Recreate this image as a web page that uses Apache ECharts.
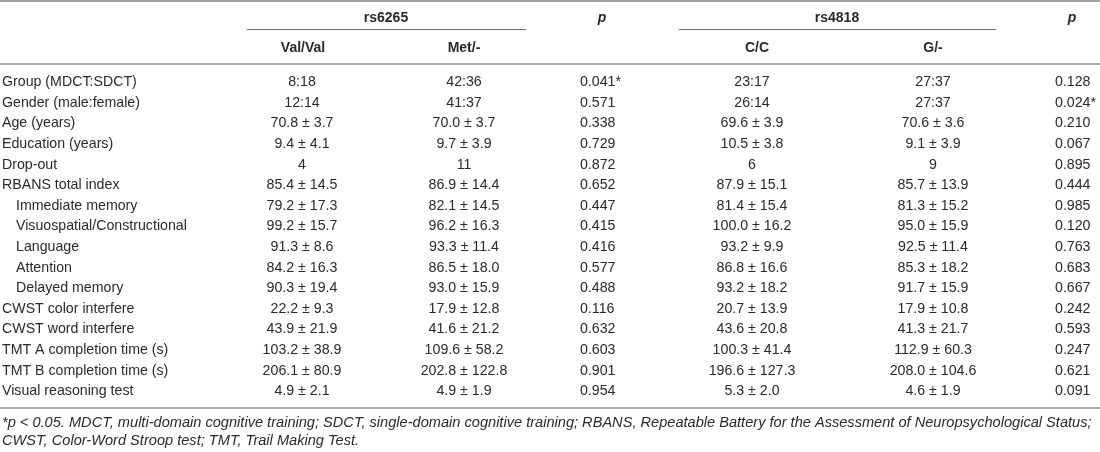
<!DOCTYPE html>
<html>
<head>
<meta charset="utf-8">
<script src="https://cdn.jsdelivr.net/npm/echarts@6/dist/echarts.min.js"></script>
<style>
  html, body { margin: 0; padding: 0; background: #fff; }
  #main { width: 1100px; height: 452px; }
</style>
</head>
<body>
<div id="main"></div>
<script>
// 表格数据
var rowLabels = ['Group (MDCT:SDCT)', 'Gender (male:female)', 'Age (years)', 'Education (years)', 'Drop-out',
    'RBANS total index', 'Immediate memory', 'Visuospatial/Constructional', 'Language', 'Attention',
    'Delayed memory', 'CWST color interfere', 'CWST word interfere', 'TMT A completion time (s)',
    'TMT B completion time (s)', 'Visual reasoning test'];
var subRows = ['Immediate memory', 'Visuospatial/Constructional', 'Language', 'Attention', 'Delayed memory'];

var valVal = ['8:18', '12:14', '70.8 ± 3.7', '9.4 ± 4.1', '4', '85.4 ± 14.5', '79.2 ± 17.3', '99.2 ± 15.7',
    '91.3 ± 8.6', '84.2 ± 16.3', '90.3 ± 19.4', '22.2 ± 9.3', '43.9 ± 21.9', '103.2 ± 38.9', '206.1 ± 80.9', '4.9 ± 2.1'];
var metAny = ['42:36', '41:37', '70.0 ± 3.7', '9.7 ± 3.9', '11', '86.9 ± 14.4', '82.1 ± 14.5', '96.2 ± 16.3',
    '93.3 ± 11.4', '86.5 ± 18.0', '93.0 ± 15.9', '17.9 ± 12.8', '41.6 ± 21.2', '109.6 ± 58.2', '202.8 ± 122.8', '4.9 ± 1.9'];
var p6265 = ['0.041*', '0.571', '0.338', '0.729', '0.872', '0.652', '0.447', '0.415',
    '0.416', '0.577', '0.488', '0.116', '0.632', '0.603', '0.901', '0.954'];
var ccVals = ['23:17', '26:14', '69.6 ± 3.9', '10.5 ± 3.8', '6', '87.9 ± 15.1', '81.4 ± 15.4', '100.0 ± 16.2',
    '93.2 ± 9.9', '86.8 ± 16.6', '93.2 ± 18.2', '20.7 ± 13.9', '43.6 ± 20.8', '100.3 ± 41.4', '196.6 ± 127.3', '5.3 ± 2.0'];
var gAny = ['27:37', '27:37', '70.6 ± 3.6', '9.1 ± 3.9', '9', '85.7 ± 13.9', '81.3 ± 15.2', '95.0 ± 15.9',
    '92.5 ± 11.4', '85.3 ± 18.2', '91.7 ± 15.9', '17.9 ± 10.8', '41.3 ± 21.7', '112.9 ± 60.3', '208.0 ± 104.6', '4.6 ± 1.9'];
var p4818 = ['0.128', '0.024*', '0.210', '0.067', '0.895', '0.444', '0.985', '0.120',
    '0.763', '0.683', '0.667', '0.242', '0.593', '0.247', '0.621', '0.091'];

var groupHeads = ['rs6265', 'rs4818'];
var subHeads = ['Val/Val', 'Met/-', 'C/C', 'G/-'];
var footnote = ['*p < 0.05. MDCT, multi-domain cognitive training; SDCT, single-domain cognitive training; RBANS, Repeatable Battery for the Assessment of Neuropsychological Status;',
    'CWST, Color-Word Stroop test; TMT, Trail Making Test.'];

// 列位置（x轴 0-1100）
var columns = [
    {vals: rowLabels, x: 2, align: 'left'},
    {vals: valVal, x: 302, align: 'center'},
    {vals: metAny, x: 464, align: 'center'},
    {vals: p6265, x: 580, align: 'left'},
    {vals: ccVals, x: 752, align: 'center'},
    {vals: gAny, x: 933, align: 'center'},
    {vals: p4818, x: 1055, align: 'left'}
];

var cells = [];
columns.forEach(function (col, ci) {
    col.vals.forEach(function (v, ri) {
        var x = col.x;
        if (ci === 0 && subRows.indexOf(v) >= 0) x += 14;
        cells.push([x, rowLabels[ri], v, col.align]);
    });
});

var textColor = '#2a2a2a';
var font = '14.2px "Liberation Sans", Arial, sans-serif';
var boldFont = 'bold 14px "Liberation Sans", Arial, sans-serif';
var pFont = 'italic bold 14px "Liberation Sans", Arial, sans-serif';
var noteFont = 'italic 14.6px "Liberation Sans", Arial, sans-serif';

function hLine(x1, x2, y, color, w) {
    return {type: 'line', shape: {x1: x1, y1: y, x2: x2, y2: y}, style: {stroke: color, lineWidth: w}, silent: true};
}
function label(text, x, y, f, align) {
    return {type: 'text', x: x, y: y, silent: true,
        style: {text: text, font: f, fill: textColor, align: align || 'center', verticalAlign: 'middle'}};
}

var myChart = echarts.init(document.getElementById('main'));
myChart.setOption({
    animation: false,
    grid: {left: 0, right: 0, top: 71.5, height: 329.6},
    xAxis: {type: 'value', min: 0, max: 1100, show: false},
    yAxis: {type: 'category', data: rowLabels, inverse: true, show: false},
    series: [{
        type: 'custom',
        data: cells,
        renderItem: function (params, api) {
            var p = api.coord([api.value(0), api.value(1)]);
            var item = cells[params.dataIndex];
            return {
                type: 'text',
                style: {
                    text: item[2], x: p[0], y: p[1] + 0.5,
                    align: item[3], verticalAlign: 'middle',
                    font: font, fill: textColor
                }
            };
        }
    }],
    graphic: [
        hLine(0, 1100, 1, '#808080', 1.5),
        hLine(247, 526, 29.5, '#6e6e6e', 1),
        hLine(679, 996, 29.5, '#6e6e6e', 1),
        hLine(0, 1100, 64, '#a8a8a8', 2),
        hLine(0, 1100, 408, '#a8a8a8', 2),
        label(groupHeads[0], 386, 18, boldFont),
        label('p', 602, 18, pFont),
        label(groupHeads[1], 837, 18, boldFont),
        label('p', 1072, 18, pFont),
        label(subHeads[0], 303, 48, boldFont),
        label(subHeads[1], 464, 48, boldFont),
        label(subHeads[2], 757, 48, boldFont),
        label(subHeads[3], 933, 48, boldFont),
        label(footnote[0], 2, 423, noteFont, 'left'),
        label(footnote[1], 2, 441, noteFont, 'left')
    ]
});
</script>
</body>
</html>
